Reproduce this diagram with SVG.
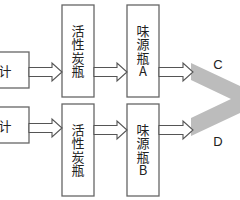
<svg xmlns="http://www.w3.org/2000/svg" width="240" height="200" viewBox="0 0 240 200">
<style>
.box{fill:#fff;stroke:#666;stroke-width:1.3}
.arr{fill:#fff;stroke:#555;stroke-width:1.1;stroke-linejoin:miter}
.cjk{font-family:"Noto Sans CJK SC","Noto Sans",sans-serif;font-size:13px;fill:#222;text-anchor:middle}
.vt{font-family:"Noto Sans CJK SC","Noto Sans",sans-serif;font-size:13px;fill:#222;writing-mode:vertical-rl;text-orientation:upright;letter-spacing:0.4px}
.lat{font-family:"Liberation Sans",Arial,sans-serif;font-size:13px;fill:#222;text-anchor:middle}
</style>
<rect width="240" height="200" fill="#fff"/>
<polygon id="band" points="191,63 269,99.5 191,136 191,118 231,99 191,80" fill="#bcbcbc"/>
<g id="meter1"><rect class="box" x="-5" y="52" width="34" height="36"/><text class="cjk" x="5" y="75.5">计</text></g>
<g id="meter2"><rect class="box" x="-5" y="107" width="34" height="36"/><text class="cjk" x="5" y="130.5">计</text></g>
<g id="carbon1"><rect class="box" x="62" y="5" width="32" height="92"/>
<text class="vt" x="78" y="24.5">活性炭瓶</text></g>
<g id="carbon2"><rect class="box" x="62" y="104" width="32" height="92"/>
<text class="vt" x="78" y="123.5">活性炭瓶</text></g>
<g id="bottleA"><rect class="box" x="127" y="5" width="32" height="92"/>
<text class="vt" x="143" y="24.5">味源瓶A</text></g>
<g id="bottleB"><rect class="box" x="127" y="104" width="32" height="92"/>
<text class="vt" x="143" y="123.5">味源瓶B</text></g>
<g id="connectors">
<polygon class="arr" points="29,67.5 52,67.5 52,63 62,72 52,81 52,76.5 29,76.5"/>
<polygon class="arr" points="94,67.5 117,67.5 117,63 127,72 117,81 117,76.5 94,76.5"/>
<polygon class="arr" points="159,67.5 183,67.5 183,63 193,72 183,81 183,76.5 159,76.5"/>
<polygon class="arr" points="29,123.5 52,123.5 52,119 62,128 52,137 52,132.5 29,132.5"/>
<polygon class="arr" points="94,125.5 117,125.5 117,121 127,130 117,139 117,134.5 94,134.5"/>
<polygon class="arr" points="159,125.5 183,125.5 183,121 193,130 183,139 183,134.5 159,134.5"/>
</g>
<text class="lat" x="218" y="68.5">C</text>
<text class="lat" x="218" y="145.5">D</text>
</svg>
